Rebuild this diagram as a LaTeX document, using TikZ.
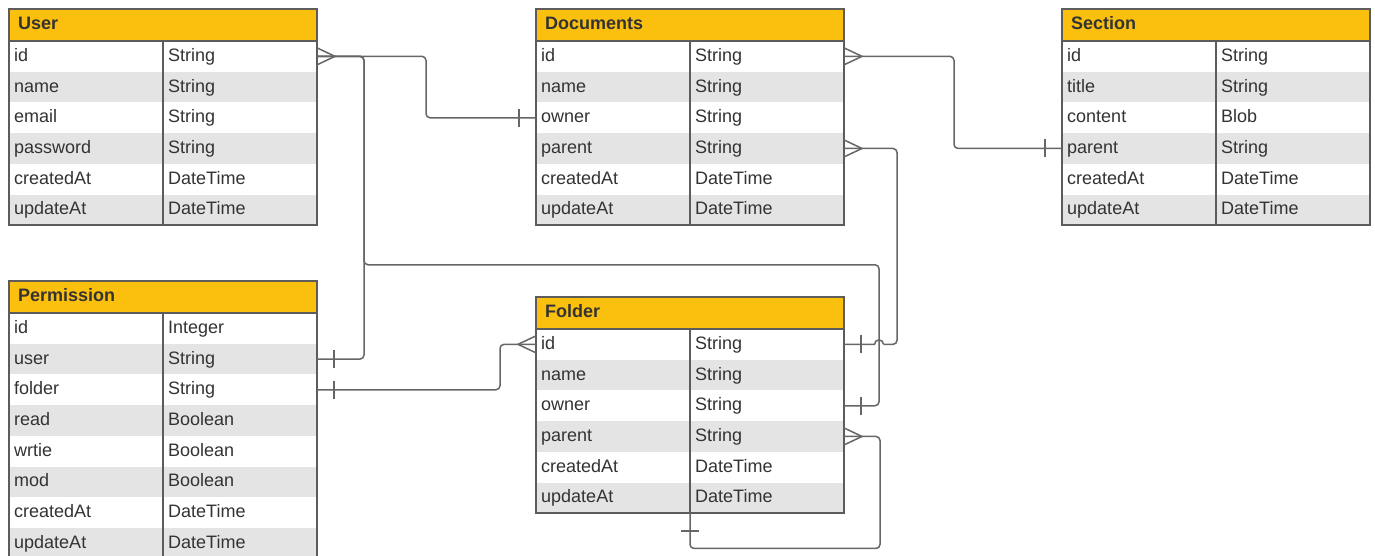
\documentclass[tikz,border=0pt]{standalone}
\usepackage{fontspec}
\setmainfont{Liberation Sans}
\usetikzlibrary{calc}

\definecolor{hdrfill}{HTML}{FBC00E}
\definecolor{rowgray}{HTML}{E4E4E4}
\definecolor{framegray}{HTML}{5C5C5C}
\definecolor{linkgray}{HTML}{666666}
\definecolor{inkgray}{HTML}{333333}

\tikzset{
  rowbox/.style={minimum width=308pt, minimum height=30.7pt, inner sep=0pt, outer sep=0pt},
  hdrbox/.style={fill=hdrfill, minimum width=308pt, minimum height=32pt, inner sep=0pt, outer sep=0pt},
  titletxt/.style={font=\bfseries\fontsize{18}{20}\selectfont, text=inkgray, inner sep=0pt, anchor=west},
  celltxt/.style={font=\fontsize{18}{20}\selectfont, text=inkgray, inner sep=0pt,
                  text height=13pt, text depth=4pt, anchor=west},
  frame/.style={draw=framegray, line width=2.5pt},
  conn/.style={draw=linkgray, line width=1.5pt, rounded corners=4pt},
  endmark/.style={draw=linkgray, line width=1.5pt},
}

% entity table: #1 name, #2 left, #3 top, #4 title, #5 row count, #6 field/type list
\newcommand\erentity[6]{%
  \node[hdrbox, anchor=north west] (#1) at (#2,#3) {};
  \node[titletxt] at ($(#1.west)+(9,-2)$) {#4};
  \foreach \f/\t [count=\i] in {#6} {
    \ifodd\i\def\rowfill{white}\else\def\rowfill{rowgray}\fi
    \node[rowbox, fill=\rowfill, anchor=north west] (#1-\i) at (#2,{#3+32+(\i-1)*30.7}) {};
    \node[celltxt] at ($(#1-\i.west)+(5,0.5)$) {\f};
    \node[celltxt] at ($(#1-\i.west)+(159,0.5)$) {\t};
  }
  \coordinate (#1-bot) at ($(#1-#5.south west)+(154,0)$);
  \draw[frame] (#1.north west) rectangle (#1-#5.south east);
  \draw[frame] (#1.south west) -- (#1.south east);
  \draw[frame] ($(#1.south west)+(154,0)$) -- (#1-bot);
}

% crow's foot (many) and bar (one) end marks
\newcommand\manyR[1]{\draw[endmark] ($(#1)+(0,-8.5)$) -- ($(#1)+(18,0)$) -- ($(#1)+(0,8.5)$);}
\newcommand\manyL[1]{\draw[endmark] ($(#1)+(0,-8.5)$) -- ($(#1)+(-18,0)$) -- ($(#1)+(0,8.5)$);}
\newcommand\oneR[1]{\draw[endmark] ($(#1)+(17,-9)$) -- ($(#1)+(17,9)$);}
\newcommand\oneL[1]{\draw[endmark] ($(#1)+(-17,-9)$) -- ($(#1)+(-17,9)$);}
\newcommand\oneD[1]{\draw[endmark] ($(#1)+(-9,18)$) -- ($(#1)+(9,18)$);}

\begin{document}
\begin{tikzpicture}[x=1pt, y=-1pt]
\fill[white] (0,0) rectangle (1375,555);
\useasboundingbox (0,0) rectangle (1375,555);

\erentity{user}{9}{9}{User}{6}{id/String, name/String, email/String, password/String,
  createdAt/DateTime, updateAt/DateTime}
\erentity{documents}{536}{9}{Documents}{6}{id/String, name/String, owner/String, parent/String,
  createdAt/DateTime, updateAt/DateTime}
\erentity{section}{1062}{9}{Section}{6}{id/String, title/String, content/Blob, parent/String,
  createdAt/DateTime, updateAt/DateTime}
\erentity{permission}{9}{281}{Permission}{8}{id/Integer, user/String, folder/String, read/Boolean,
  wrtie/Boolean, mod/Boolean, createdAt/DateTime, updateAt/DateTime}
\erentity{folder}{536}{297}{Folder}{6}{id/String, name/String, owner/String, parent/String,
  createdAt/DateTime, updateAt/DateTime}

% User.id -> Documents.owner
\draw[conn] (user-1.east) -- ++(109,0) |- (documents-3.west);
% User.id -> Permission.user
\draw[conn] (user-1.east) -- ++(47,0) |- (permission-2.east);
% User.id -> Folder.owner
\draw[conn] (user-1.east) -- ++(47,0) |- ($(folder-3.east)+(35,-141)$) |- (folder-3.east);
% Documents.id -> Section.parent
\draw[conn] (documents-1.east) -- ++(110,0) |- (section-4.west);
% Documents.parent -> Folder.id (hops over the vertical run)
\draw[conn] (documents-4.east) -- ++(53,0) |- ($(folder-1.east)+(39.5,0)$);
\draw[endmark] ($(folder-1.east)+(39.5,0)$) arc[start angle=0, end angle=-180, radius=4.5]
  -- (folder-1.east);
% Permission.folder -> Folder.id
\draw[conn] (permission-3.east) -- ++(183,0) |- (folder-1.west);
% Folder.parent -> Folder (self reference)
\draw[conn] (folder-4.east) -- ++(36,0) -- ++(0,112) -| (folder-bot);

% end marks
\manyR{user-1.east}
\oneL{documents-3.west}
\oneR{permission-2.east}
\oneR{folder-3.east}
\manyR{documents-4.east}
\oneR{folder-1.east}
\manyR{documents-1.east}
\oneL{section-4.west}
\oneR{permission-3.east}
\manyL{folder-1.west}
\manyR{folder-4.east}
\oneD{folder-bot}
\end{tikzpicture}
\end{document}
